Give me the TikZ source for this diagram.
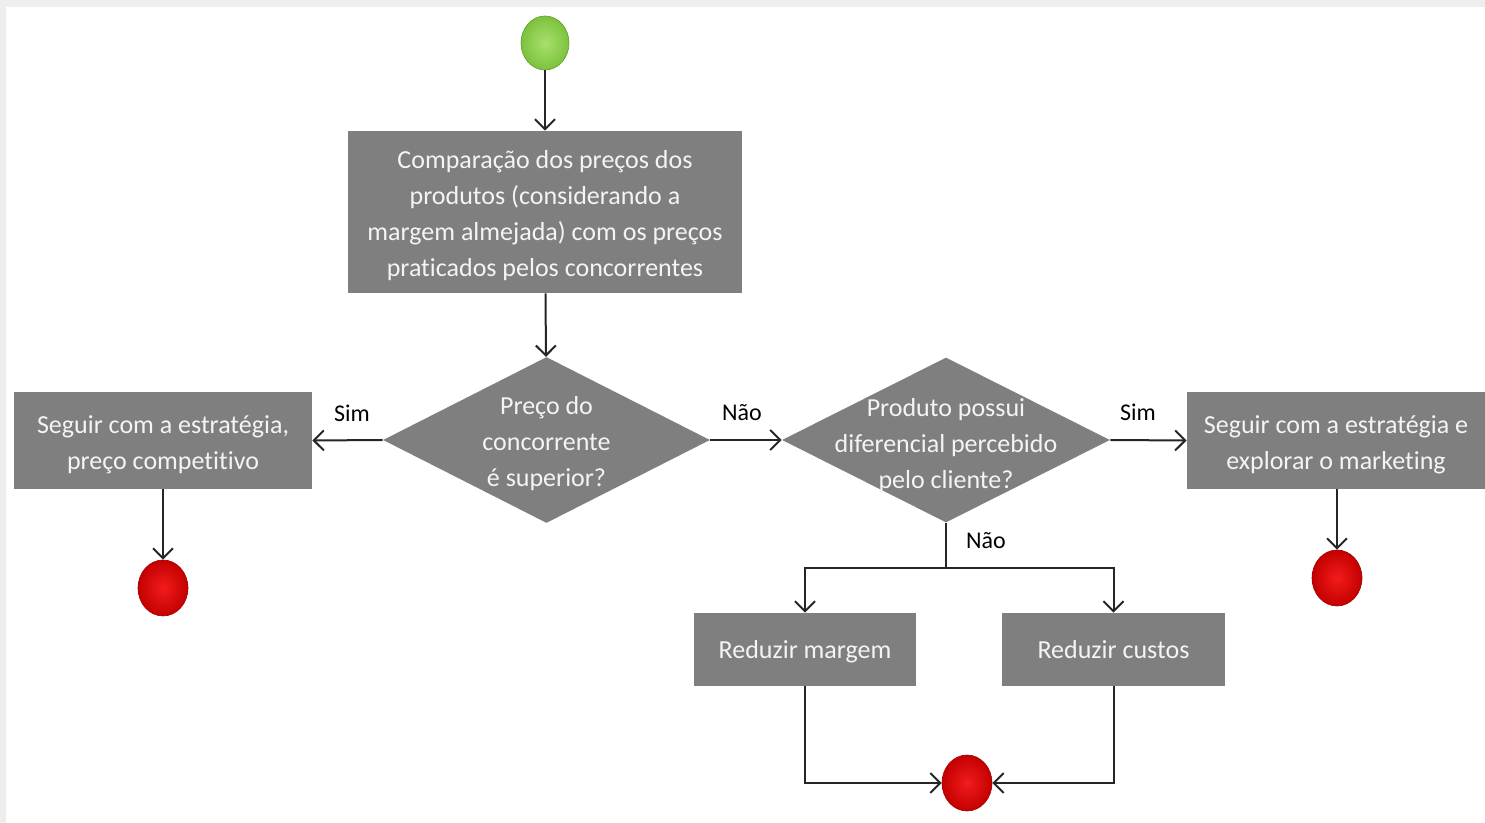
\documentclass[tikz,border=0pt]{standalone}
\usepackage{fontspec}
\setmainfont{Carlito}[Ligatures=NoCommon]
\usetikzlibrary{shapes.geometric,arrows.meta}
\definecolor{boxgray}{HTML}{7F7F7F}
\definecolor{boxtext}{HTML}{F4F4F4}
\definecolor{framegray}{HTML}{EEEEEE}
\definecolor{gin}{HTML}{A8E06C}
\definecolor{gout}{HTML}{7CC23E}
\definecolor{rin}{HTML}{F21C1C}
\definecolor{rout}{HTML}{C40000}
\newcommand\topstrut{\rule{0pt}{13pt}}
\tikzset{
  px/.style={x=0.5pt,y=-0.5pt},
  procbox/.style={rectangle,fill=boxgray,text=boxtext,align=center,inner sep=0pt,
    font=\fontsize{13}{18}\selectfont},
  decbox/.style={diamond,fill=boxgray,inner sep=0pt},
  dectext/.style={text=boxtext,align=center,inner sep=0pt,font=\fontsize{13}{18}\selectfont},
  startnode/.style={ellipse,minimum width=24pt,minimum height=27pt,inner sep=0pt,
    inner color=gin,outer color=gout,draw=gout!80!black,line width=0.3pt},
  endnode/.style={ellipse,minimum width=25pt,minimum height=28pt,inner sep=0pt,
    inner color=rin,outer color=rout,draw=rout!80!black,line width=0.3pt},
  conn/.style={line width=1pt,black!85,-{Straight Barb[length=5pt,width=10pt,line width=1pt]}},
  plain/.style={line width=1pt,black!85},
  lbl/.style={font=\fontsize{12}{14}\selectfont,text=black,inner sep=0pt}
}
\begin{document}
\begin{tikzpicture}[px]
\useasboundingbox (0,0) rectangle (1485,823);
\fill[framegray] (0,0) rectangle (1485,823);
\fill[white] (6,7) rectangle (1485,823);

\node[startnode] (start) at (545,43) {};
\node[procbox,minimum width=197pt,minimum height=81pt] (box1) at (545,212)
  {\topstrut Comparação dos preços dos\\produtos (considerando a\\margem almejada) com os preços\\praticados pelos concorrentes};
\node[decbox,minimum width=163.5pt,minimum height=83pt] (d1) at (546.5,440) {};
\node[dectext] (d1t) at (546.5,440) {\topstrut Preço do\\concorrente\\é superior?};
\node[procbox,minimum width=149pt,minimum height=48.5pt] (lbox) at (163,440.5)
  {\topstrut Seguir com a estratégia,\\preço competitivo};
\node[endnode] (end1) at (163,588) {};
\node[decbox,minimum width=164pt,minimum height=82.5pt] (d2) at (946,440) {};
\node[dectext] (d2t) at (946,442) {\topstrut Produto possui\\diferencial percebido\\pelo cliente?};
\node[procbox,minimum width=149pt,minimum height=48.5pt] (rbox) at (1336,440.5)
  {\topstrut Seguir com a estratégia e\\explorar o marketing};
\node[endnode] (end2) at (1337,578) {};
\node[procbox,text depth=0pt,minimum width=111pt,minimum height=36.5pt] (mbox) at (805,649.5) {Reduzir margem};
\node[procbox,text depth=0pt,minimum width=111.5pt,minimum height=36.5pt] (cbox) at (1113.5,649.5) {Reduzir custos};
\node[endnode] (end3) at (967,783) {};

\draw[conn] (start) -- (box1);
\draw[conn] (box1) -- (d1);
\draw[conn] (d1.west) -- (lbox.east);
\draw[conn] (lbox) -- (end1);
\draw[conn] (d1.east) -- (d2.west);
\draw[conn] (d2.east) -- (rbox.west);
\draw[conn] (rbox.south -| end2) -- (end2);
\coordinate (split) at (946,568);
\draw[plain] (d2.south) -- (split);
\draw[conn] (split) -| (mbox.north);
\draw[conn] (split) -| (cbox.north);
\draw[conn] (mbox.south) |- (end3.west);
\draw[conn] (cbox.south) |- (end3.east);

\node[lbl] (l1) at (352,413) {Sim};
\node[lbl] (l2) at (742,413) {Não};
\node[lbl] (l3) at (1138,412) {Sim};
\node[lbl] (l4) at (986,541) {Não};
\end{tikzpicture}
\end{document}
